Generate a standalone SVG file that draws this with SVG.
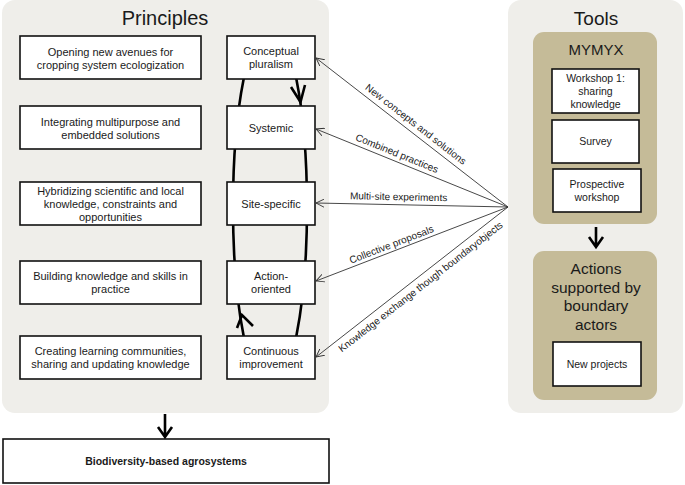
<svg xmlns="http://www.w3.org/2000/svg" width="685" height="485" viewBox="0 0 685 485">
<defs>
<style>
text{font-family:"Liberation Sans",Arial,sans-serif;fill:#1a1a1a}
.panel{fill:#efeeea}
.khaki{fill:#c5bb98}
.box{fill:#fff;stroke:#111;stroke-width:1.6}
.t{font-size:11px;text-anchor:middle}
.lab{font-size:10px;text-anchor:middle}
.title{font-size:20px;text-anchor:middle}
.conn{fill:none;stroke:#333;stroke-width:0.9}
.thick{fill:none;stroke:#000;stroke-width:2.6}
</style>
<clipPath id="loopclip"><rect x="200" y="79" width="140" height="257"/></clipPath>
<marker id="ah" viewBox="0 0 10 10" refX="9" refY="5" markerWidth="9" markerHeight="9" markerUnits="userSpaceOnUse" orient="auto">
<path d="M0,0.5 L9,5 L0,9.5" fill="none" stroke="#333" stroke-width="1"/>
</marker>
</defs>
<rect width="685" height="485" fill="#fff"/>

<g id="principles-panel">
<rect class="panel" x="2" y="0" width="327" height="413" rx="13"/>
<text class="title" x="165" y="25">Principles</text>
</g>

<g id="tools-panel">
<rect class="panel" x="508" y="0" width="175" height="413" rx="13"/>
<text class="title" x="596" y="25" style="font-size:19px">Tools</text>
</g>

<g id="loop">
<ellipse cx="270" cy="207.5" rx="37" ry="183" fill="none" stroke="#000" stroke-width="2.6" clip-path="url(#loopclip)"/>
<path class="thick" d="M291,87 L300.5,102 L305,85"/>
<path class="thick" d="M237,328 L242,315 L253,326"/>
</g>

<g id="p1"><rect class="box" x="20" y="36" width="181" height="43"/><text class="t" x="110.5" y="56">Opening new avenues for</text><text class="t" x="110.5" y="69">cropping system ecologization</text></g>
<g id="p2"><rect class="box" x="20" y="106" width="181" height="43"/><text class="t" x="110.5" y="126">Integrating multipurpose  and</text><text class="t" x="110.5" y="139">embedded  solutions</text></g>
<g id="p3"><rect class="box" x="20" y="182" width="181" height="43"/><text class="t" x="110.5" y="195">Hybridizing scientific and local</text><text class="t" x="110.5" y="208">knowledge, constraints and</text><text class="t" x="110.5" y="221">opportunities</text></g>
<g id="p4"><rect class="box" x="20" y="261" width="181" height="43"/><text class="t" x="110.5" y="280">Building knowledge and skills  in</text><text class="t" x="110.5" y="293">practice</text></g>
<g id="p5"><rect class="box" x="20" y="336" width="181" height="43"/><text class="t" x="110.5" y="355">Creating learning communities,</text><text class="t" x="110.5" y="368">sharing and  updating knowledge</text></g>

<g id="c1"><rect class="box" x="227" y="36" width="88" height="43"/><text class="t" x="271" y="55">Conceptual</text><text class="t" x="271" y="68">pluralism</text></g>
<g id="c2"><rect class="box" x="227" y="106" width="88" height="43"/><text class="t" x="271" y="132">Systemic</text></g>
<g id="c3"><rect class="box" x="227" y="182" width="88" height="43"/><text class="t" x="271" y="208">Site-specific</text></g>
<g id="c4"><rect class="box" x="227" y="261" width="88" height="43"/><text class="t" x="271" y="280">Action-</text><text class="t" x="271" y="293">oriented</text></g>
<g id="c5"><rect class="box" x="227" y="336" width="88" height="43"/><text class="t" x="271" y="355">Continuous</text><text class="t" x="271" y="368">improvement</text></g>

<g id="bottom"><rect class="box" x="3" y="439" width="326" height="44"/><text class="t" x="166" y="465" style="font-weight:bold;font-size:10.5px">Biodiversity-based  agrosystems</text></g>

<g id="mymyx">
<rect class="khaki" x="533" y="32" width="124" height="192" rx="11"/>
<text x="596" y="55" style="font-size:15px;text-anchor:middle">MYMYX</text>
</g>
<g id="t1"><rect class="box" x="552" y="69" width="87" height="44"/><text class="t" x="595.5" y="82" style="font-size:10.5px">Workshop 1:</text><text class="t" x="595.5" y="95" style="font-size:10.5px">sharing</text><text class="t" x="595.5" y="108" style="font-size:10.5px">knowledge</text></g>
<g id="t2"><rect class="box" x="552" y="120" width="87" height="43"/><text class="t" x="595.5" y="145" style="font-size:10.5px">Survey</text></g>
<g id="t3"><rect class="box" x="553" y="169" width="88" height="43"/><text class="t" x="597" y="188" style="font-size:10.5px">Prospective</text><text class="t" x="597" y="201" style="font-size:10.5px">workshop</text></g>

<g id="actions">
<rect class="khaki" x="533" y="251" width="124" height="149" rx="11"/>
<text x="596" y="274" style="font-size:15.5px;text-anchor:middle">Actions</text>
<text x="596" y="292.5" style="font-size:15.5px;text-anchor:middle">supported by</text>
<text x="596" y="311" style="font-size:15.5px;text-anchor:middle">boundary</text>
<text x="596" y="329.5" style="font-size:15.5px;text-anchor:middle">actors</text>
</g>
<g id="t4"><rect class="box" x="553" y="342" width="88" height="44"/><text class="t" x="597" y="368" style="font-size:10.5px">New projects</text></g>

<g id="connectors">
<path class="conn" d="M508,207 L316,58" marker-end="url(#ah)"/>
<path class="conn" d="M508,207 L316,129" marker-end="url(#ah)"/>
<path class="conn" d="M508,207 L316,203" marker-end="url(#ah)"/>
<path class="conn" d="M508,207 L316,281" marker-end="url(#ah)"/>
<path class="conn" d="M508,207 L316,357" marker-end="url(#ah)"/>
<text class="lab" transform="translate(411,130.5) rotate(37.8)" y="-4.5">New concepts and solutions</text>
<text class="lab" transform="translate(394,160.7) rotate(22.1)" y="-4.5">Combined practices</text>
<text class="lab" transform="translate(398.5,204.7) rotate(1.2)" y="-4.5">Multi-site experiments</text>
<text class="lab" transform="translate(394,250.9) rotate(-21.1)" y="-3.5">Collective proposals</text>
<text class="lab" transform="translate(415,279.6) rotate(-38)" y="12.5">Knowledge exchange though boundaryobjects</text>
<path class="thick" d="M165,414 V436 M158,427 L165,437 L172,427"/>
<path class="thick" d="M596,227 V246 M589,237 L596,247 L603,237"/>
</g>
</svg>
